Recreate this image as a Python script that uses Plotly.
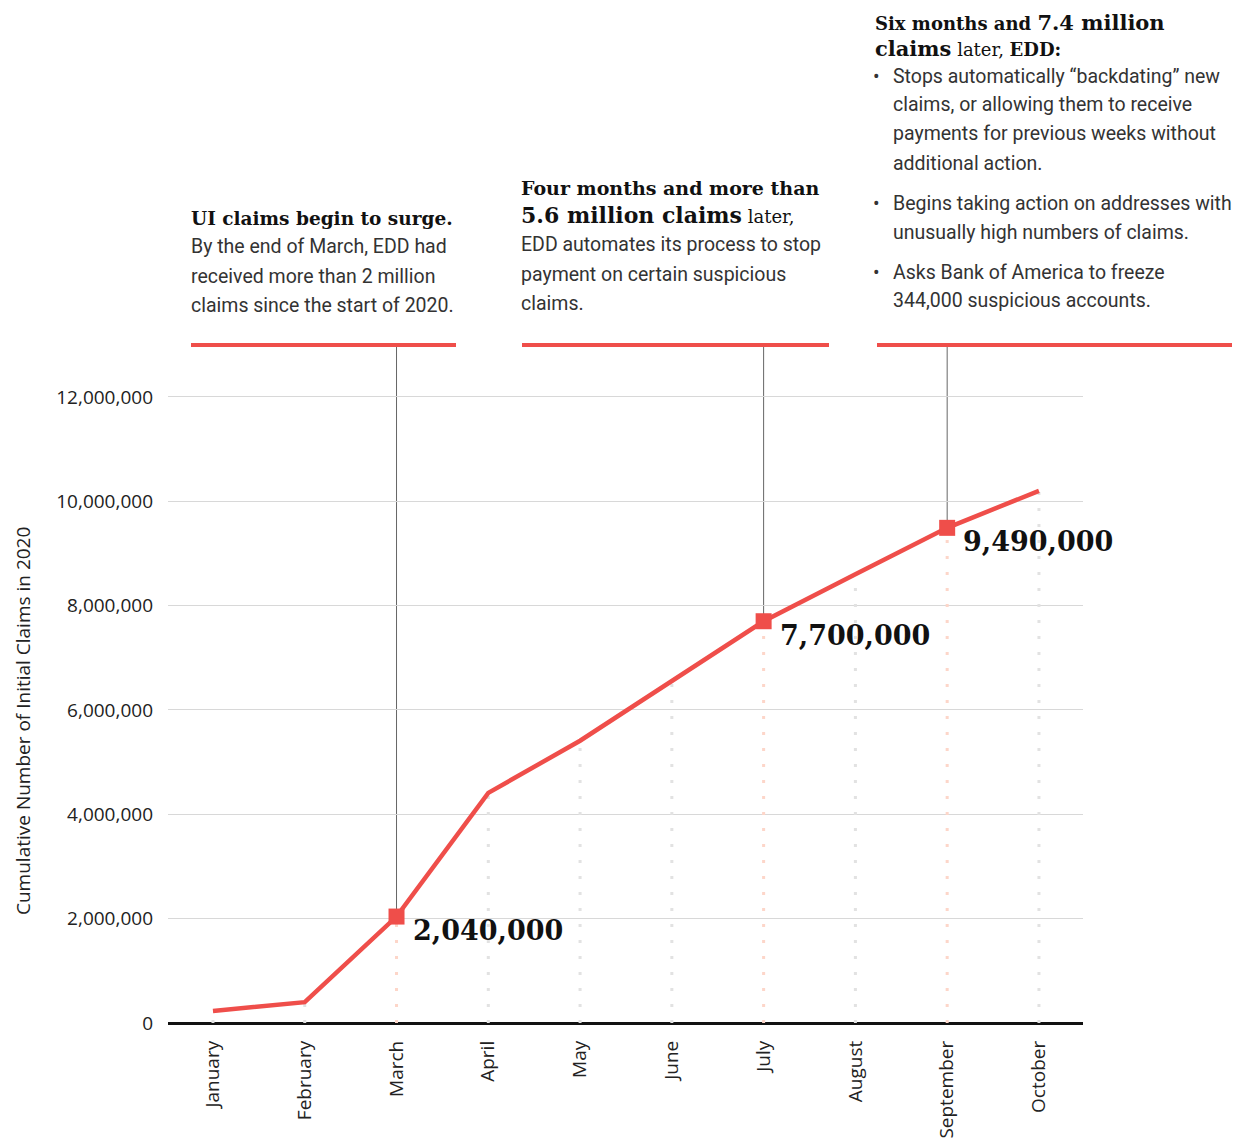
import plotly.graph_objects as go

# ---------------- data ----------------
months = ["January", "February", "March", "April", "May", "June",
          "July", "August", "September", "October"]
claims = [230000, 400000, 2040000, 4410000, 5410000, 6550000,
          7700000, 8600000, 9490000, 10200000]
highlight_months = ["March", "July", "September"]
y_ticks = [0, 2000000, 4000000, 6000000, 8000000, 10000000, 12000000]

RED = "#ef4e4a"
GREY_DOT = "#e2e2e2"
PEACH_DOT = "#fdd6c9"
TEXT = "#333333"
SANS = "Roboto"
SERIF = "DejaVu Serif"

# screen geometry (page body has an 8px offset)
OFF = 8
W, H = 1249, 1141
L, R, T, B = 168, 166, 376, 118
PW, PH = W - L - R, H - T - B


def px(x):  # screen pixel -> paper x
    return (x - L) / PW


def py(y):  # screen pixel -> paper y
    return (H - B - y) / PH


xs = list(range(len(months)))
hi_idx = [months.index(m) for m in highlight_months]

fig = go.Figure()

# dotted drop lines
for group, color in ((False, GREY_DOT), (True, PEACH_DOT)):
    dx, dy = [], []
    for i, v in zip(xs, claims):
        if (i in hi_idx) == group:
            dx += [i, i, None]
            dy += [0, v, None]
    fig.add_trace(go.Scatter(x=dx, y=dy, mode="lines",
                             line=dict(color=color, width=3, dash="3px,13px"),
                             hoverinfo="skip", showlegend=False))

# connector lines from markers up to the plot top (data part)
for i in hi_idx:
    fig.add_shape(type="line", xref="x", yref="y", x0=i, x1=i,
                  y0=claims[i], y1=12400000,
                  line=dict(color="#666666", width=1), layer="below")

# main line
fig.add_trace(go.Scatter(x=xs, y=claims, mode="lines",
                         line=dict(color=RED, width=4.5),
                         hoverinfo="skip", showlegend=False))
# highlighted markers
fig.add_trace(go.Scatter(x=[xs[i] for i in hi_idx], y=[claims[i] for i in hi_idx],
                         mode="markers",
                         marker=dict(symbol="square", size=16, color=RED),
                         hoverinfo="skip", showlegend=False))

annotations = []
# value labels
for i in hi_idx:
    annotations.append(dict(x=xs[i], y=claims[i], xref="x", yref="y",
                            text=f"<b>{claims[i]:,}</b>", showarrow=False,
                            xanchor="left", yanchor="middle", xshift=14, yshift=-14,
                            font=dict(family=SERIF, size=27, color="#111111")))

# header bars and connector lines above plot
bars = [(191, 456, 2), (522, 829, 6), (877, 1232, 8)]
for x0, x1, mi in bars:
    fig.add_shape(type="line", xref="paper", yref="paper",
                  x0=px(x0), x1=px(x1), y0=py(345), y1=py(345),
                  line=dict(color=RED, width=4))
    fig.add_shape(type="line", xref="x", yref="paper", x0=mi, x1=mi,
                  y0=1, y1=py(347), line=dict(color="#666666", width=1))


def txt(x, y, s, size=19.5, family=SANS, color=TEXT):
    annotations.append(dict(x=px(x), y=py(y), xref="paper", yref="paper",
                            text=s, showarrow=False, xanchor="left", yanchor="middle",
                            borderpad=0,
                            font=dict(family=family, size=size, color=color)))


HS = 19   # heading size
HL = 22   # heading large
# block 1
txt(190, 218, "<b>UI claims begin to surge.</b>", 18.5, SERIF, "#111111")
txt(190, 247, "By the end of March, EDD had")
txt(190, 276, "received more than 2 million")
txt(190, 305, "claims since the start of 2020.")
# block 2
txt(520, 188, "<b>Four months and more than</b>", HS, SERIF, "#111111")
txt(520, 215, f"<b><span style='font-size:{HL}px'>5.6 million claims</span></b> later,", 18, SERIF, "#111111")
txt(520, 245, "EDD automates its process to stop")
txt(520, 274, "payment on certain suspicious")
txt(520, 303, "claims.")
# block 3
txt(874, 23, "<b>Six months and <span style='font-size:21px'>7.4 million</span></b>", 18, SERIF, "#111111")
txt(874, 49, "<b><span style='font-size:21px'>claims</span></b> later, <b>EDD:</b>", 18, SERIF, "#111111")
bullets = [
    [(77, "Stops automatically “backdating” new"), (105, "claims, or allowing them to receive"),
     (134, "payments for previous weeks without"), (163, "additional action.")],
    [(203, "Begins taking action on addresses with"), (232, "unusually high numbers of claims.")],
    [(272, "Asks Bank of America to freeze"), (301, "344,000 suspicious accounts.")],
]
for group in bullets:
    txt(872, group[0][0], "•")
    for y, s in group:
        txt(892, y, s)

# y-axis title
annotations.append(dict(x=px(23), y=py(721), xref="paper", yref="paper",
                        text="Cumulative Number of Initial Claims in 2020",
                        textangle=-90, showarrow=False, xanchor="center", yanchor="middle",
                        borderpad=0,
                        font=dict(family="Open Sans", size=19, color="#222222")))

fig.update_layout(
    width=W - OFF, height=H - OFF,
    margin=dict(l=L - OFF, r=R, t=T - OFF, b=B, autoexpand=False),
    paper_bgcolor="white", plot_bgcolor="white",
    annotations=annotations,
    xaxis=dict(range=[-0.49, 9.48], tickvals=xs, ticktext=months, tickangle=-90,
               showgrid=False, zeroline=False, showline=False, ticks="",
               ticklabelstandoff=13,
               tickfont=dict(family="Open Sans", size=19, color="#222222")),
    yaxis=dict(range=[0, 12400000], tickvals=y_ticks, tickformat=",",
               showgrid=True, gridcolor="#d8d8d8", gridwidth=1,
               zeroline=True, zerolinecolor="#111111", zerolinewidth=2.5,
               showline=False, ticks="", ticklabelstandoff=14,
               tickfont=dict(family="Open Sans", size=19, color="#222222")),
)

fig.write_html("out.html")
